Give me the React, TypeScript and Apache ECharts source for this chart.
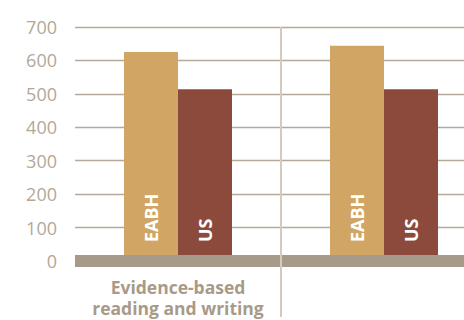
import React, { useEffect, useRef } from "react";
import * as echarts from "echarts";

const categories = ["Evidence-based\nreading and writing", "Math"];
const eabhValues = [625, 644];
const usValues = [514, 514];
const seriesNames = ["EABH", "US"];
const yTicks = [0, 100, 200, 300, 400, 500, 600, 700];

export default function App() {
  const ref = useRef<HTMLDivElement>(null);
  useEffect(() => {
    if (!ref.current) return;
    const chart = echarts.init(ref.current, undefined, { renderer: "svg" });
    const labelStyle = {
      show: true,
      position: "insideBottom",
      distance: 19,
      rotate: 90,
      align: "left",
      verticalAlign: "middle",
      color: "#ffffff",
      fontFamily: "Open Sans",
      fontWeight: "bold",
      fontSize: 18,
      formatter: (p: any) => p.seriesName,
    };
    chart.setOption({
      animation: false,
      grid: { left: 75, top: 27, width: 412, height: 234, outerBoundsMode: "none", containLabel: false },
      xAxis: {
        type: "category",
        data: categories,
        z: 5,
        axisLine: { show: true, lineStyle: { color: "#a89a88", width: 12, cap: "butt" } },
        axisTick: { show: false },
        axisLabel: {
          color: "#a89a88",
          fontFamily: "Open Sans",
          fontWeight: "bold",
          fontSize: 17.5,
          lineHeight: 21,
          margin: 15,
        },
      },
      yAxis: {
        type: "value",
        min: yTicks[0],
        max: yTicks[yTicks.length - 1],
        interval: 100,
        axisLine: { show: false },
        axisTick: { show: false },
        axisLabel: {
          color: "#b3a898",
          fontFamily: "Open Sans",
          fontSize: 18,
          margin: 18,
        },
        splitLine: { lineStyle: { color: "#b5a999", width: 1.3 } },
      },
      graphic: [
        {
          type: "line",
          shape: { x1: 281, y1: 27, x2: 281, y2: 317 },
          style: { stroke: "#d4cac0", lineWidth: 2 },
          z: 10,
        },
      ],
      series: [
        {
          name: seriesNames[0],
          type: "bar",
          data: eabhValues,
          barWidth: 54,
          barGap: "0%",
          itemStyle: { color: "#d1a564" },
          label: labelStyle,
        },
        {
          name: seriesNames[1],
          type: "bar",
          data: usValues,
          barWidth: 54,
          barGap: "0%",
          itemStyle: { color: "#8b4a3c" },
          label: labelStyle,
        },
      ],
    });
    return () => chart.dispose();
  }, []);
  return <div ref={ref} style={{ width: 464, height: 320, position: "absolute", left: 0, top: 0 }} />;
}
